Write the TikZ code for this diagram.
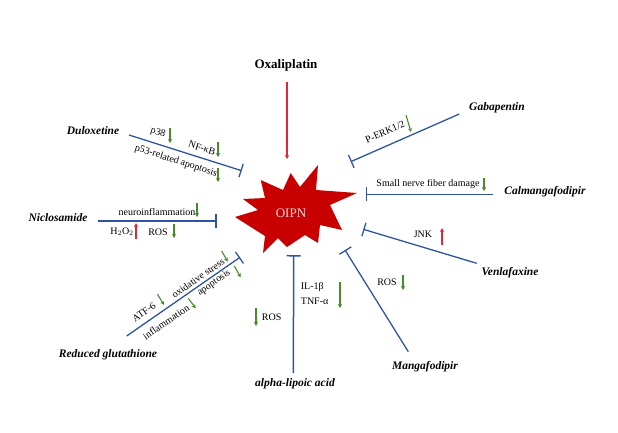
\documentclass[tikz,border=0pt]{standalone}
\usepackage{fontspec}
\setmainfont{Liberation Serif}
\usetikzlibrary{arrows.meta}
\definecolor{lineblue}{RGB}{47,85,160}
\definecolor{starred}{RGB}{200,0,0}
\definecolor{dngreen}{RGB}{70,140,40}
\definecolor{upred}{RGB}{225,40,50}
\definecolor{oipngray}{RGB}{225,225,225}
\begin{document}
\begin{tikzpicture}[x=1pt,y=-1pt,
 drug/.style={font=\fontsize{11.5}{12}\selectfont\bfseries\itshape, inner sep=0pt},
 lab/.style={font=\fontsize{10}{11}\selectfont, inner sep=0pt},
 inhib/.style={draw=lineblue, line width=1.3pt, -{Bar[width=14pt,line width=1.3pt]}},
 dn/.style={draw=dngreen, line width=1.1pt, -{Stealth[length=4pt,width=4pt]}},
 upr/.style={draw=upred, line width=1.1pt, -{Stealth[length=4pt,width=4pt]}},
]
\useasboundingbox (0,0) rectangle (618,432);

% star
\fill[starred] (260.7,180) -- (283,190) -- (290.7,173) -- (300,187) -- (318,165)
  -- (316,190) -- (357,193) -- (330,205) -- (342,230) -- (320,225) -- (318,243)
  -- (305,235) -- (287,247) -- (278,238) -- (263,253) -- (265,236) -- (235,217)
  -- (258,210) -- (243,199) -- (265,198) -- cycle;
\node[font=\fontsize{13}{14}\selectfont, text=oipngray, inner sep=0pt] (oipn) at (291,213) {OIPN};

% Oxaliplatin
\node[font=\fontsize{13}{14}\selectfont\bfseries, inner sep=0pt] (oxa) at (286,65) {Oxaliplatin};
\coordinate (oxaA) at (287,82);
\coordinate (oxaB) at (287,159);
\draw[draw=upred, line width=1.1pt, -{Stealth[length=4pt,width=4pt]}] (oxaA) -- (oxaB);

% Duloxetine
\node[drug] (dul) at (93,131) {Duloxetine};
\coordinate (dulA) at (129,135);
\coordinate (dulB) at (241.7,170.7);
\draw[inhib] (dulA) -- (dulB);
\node[lab, rotate=-17.6] (p38) at (158,133) {p38};
\node[lab, rotate=-17.6] (nfkb) at (202,148) {NF-κB};
\node[lab, rotate=-17.6] (p53) at (176,161) {p53-related apoptosis};
\coordinate (d1a) at (170,128); \coordinate (d1b) at (170,143);
\coordinate (d2a) at (218,142); \coordinate (d2b) at (218,157);
\coordinate (d3a) at (218,168); \coordinate (d3b) at (218,182);
\draw[dn] (d1a) -- (d1b);
\draw[dn] (d2a) -- (d2b);
\draw[dn] (d3a) -- (d3b);

% Niclosamide
\node[drug] (nic) at (58,218) {Niclosamide};
\coordinate (nicA) at (98.3,221);
\coordinate (nicB) at (216.7,221);
\draw[inhib] (nicA) -- (nicB);
\node[lab] (neuro) at (157,212.5) {neuroinflammation};
\node[lab] (h2o2) at (122,231.5) {H$_2$O$_2$};
\node[lab] (ros1) at (158,232) {ROS};
\coordinate (n1a) at (197,203); \coordinate (n1b) at (197,217);
\coordinate (n2a) at (136,239); \coordinate (n2b) at (136,223);
\coordinate (n3a) at (174,224); \coordinate (n3b) at (174,238);
\draw[dn] (n1a) -- (n1b);
\draw[upr] (n2a) -- (n2b);
\draw[dn] (n3a) -- (n3b);

% Reduced glutathione
\node[drug] (gsh) at (108,355) {Reduced glutathione};
\coordinate (gshA) at (126.7,336);
\coordinate (gshB) at (240,257.3);
\draw[inhib] (gshA) -- (gshB);
\node[lab, rotate=34.8] (atf) at (144,312) {ATF-6};
\node[lab, rotate=34.8] (oxs) at (198,278) {oxidative stress};
\node[lab, rotate=34.8] (infl) at (166,322) {inflammation};
\node[lab, rotate=34.8] (apo) at (214,283) {apoptosis};
\coordinate (g1a) at (157.3,294); \coordinate (g1b) at (164,305);
\coordinate (g2a) at (221.7,251); \coordinate (g2b) at (227.7,261.7);
\coordinate (g3a) at (188.3,298.3); \coordinate (g3b) at (195.7,308.3);
\coordinate (g4a) at (234.3,266); \coordinate (g4b) at (240.7,277.3);
\draw[dn] (g1a) -- (g1b);
\draw[dn] (g2a) -- (g2b);
\draw[dn] (g3a) -- (g3b);
\draw[dn] (g4a) -- (g4b);

% alpha-lipoic acid
\node[drug] (ala) at (295,383.5) {alpha-lipoic acid};
\coordinate (alaA) at (293.4,373);
\coordinate (alaB) at (293.6,255);
\draw[draw=lineblue, line width=1.5pt, -{Bar[width=14pt,line width=1.5pt]}] (alaA) -- (alaB);
\node[lab, anchor=west] (il1b) at (300.7,287.5) {IL-1β};
\node[lab, anchor=west] (tnfa) at (300.7,301) {TNF-α};
\node[lab, anchor=west] (ros2) at (261.7,317.5) {ROS};
\coordinate (a1a) at (340,282); \coordinate (a1b) at (340,308);
\coordinate (a2a) at (256,308); \coordinate (a2b) at (256,326);
\draw[dn] (a1a) -- (a1b);
\draw[dn] (a2a) -- (a2b);

% Mangafodipir
\node[drug] (mng) at (425,367) {Mangafodipir};
\coordinate (mngA) at (408.3,351.7);
\coordinate (mngB) at (345,250);
\draw[inhib] (mngA) -- (mngB);
\node[lab] (ros3) at (387,282) {ROS};
\coordinate (m1a) at (403,275); \coordinate (m1b) at (403,290);
\draw[dn] (m1a) -- (m1b);

% Venlafaxine
\node[drug] (ven) at (510,273) {Venlafaxine};
\coordinate (venA) at (476.7,263.3);
\coordinate (venB) at (363.3,229.3);
\draw[inhib] (venA) -- (venB);
\node[lab] (jnk) at (423,234) {JNK};
\coordinate (v1a) at (442,245); \coordinate (v1b) at (442,228);
\draw[upr] (v1a) -- (v1b);

% Calmangafodipir
\node[drug] (cal) at (545,192) {Calmangafodipir};
\coordinate (calA) at (493,194.3);
\coordinate (calB) at (365.7,194.3);
\draw[inhib] (calA) -- (calB);
\node[lab] (snf) at (428,184.5) {Small nerve fiber damage};
\coordinate (c1a) at (484,178); \coordinate (c1b) at (484,191);
\draw[dn] (c1a) -- (c1b);

% Gabapentin
\node[drug] (gab) at (497,108) {Gabapentin};
\coordinate (gabA) at (459.3,114);
\coordinate (gabB) at (350.7,161.7);
\draw[inhib] (gabA) -- (gabB);
\node[lab, rotate=23.7] (perk) at (385,132) {P-ERK1/2};
\coordinate (b1a) at (406,115); \coordinate (b1b) at (411,132);
\draw[dn] (b1a) -- (b1b);
\end{tikzpicture}
\end{document}
